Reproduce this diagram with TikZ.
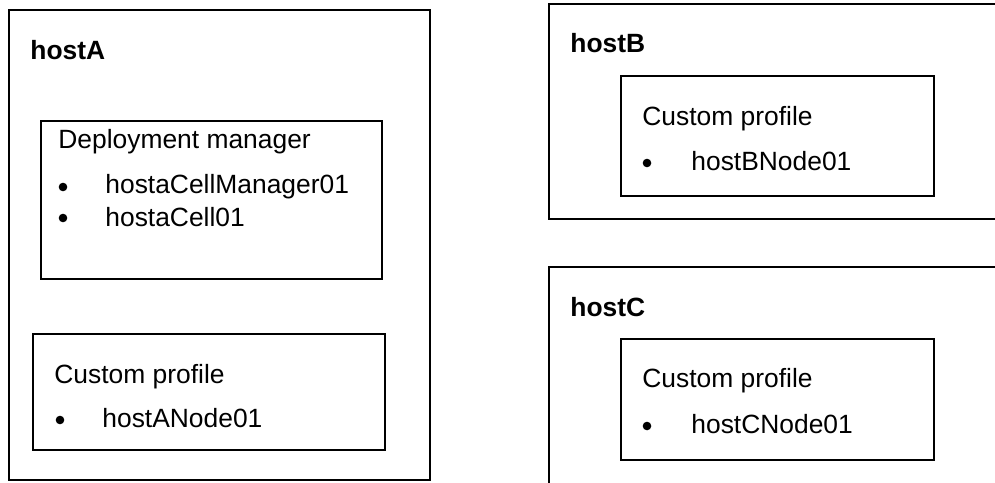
\documentclass[tikz,border=0pt]{standalone}
\usepackage{fontspec}
\setmainfont{Liberation Sans}
\usetikzlibrary{fit}

\tikzset{boite/.style = {draw, line width=0.8pt, inner sep=0pt, fit={#1}},
         texte/.style = {anchor=base west, inner sep=0pt,
                         font=\fontsize{13.2}{16}\selectfont},
         titre/.style = {texte, font=\fontsize{13.2}{16}\selectfont\bfseries},
         puce/.style  = {circle, fill, inner sep=0pt, minimum size=#1},
         puce/.default=4.3pt
        }

\begin{document}
\begin{tikzpicture}[x=0.5pt, y=-0.5pt]
  \useasboundingbox (0,0) rectangle (995,482);
  \clip (0,0) rectangle (995,482);
  % hostA
  \node[boite={(9,10) (430,480)}] (hostA) {};
  \node[titre] (titreA) at (30,59) {hostA};
  \node[boite={(41,121) (382,279)}] (dm) {};
  \node[texte] (titreDm) at (58,148) {Deployment manager};
  \node[puce] (puceDm1) at (63,187) {};
  \node[texte] (dm1) at (105,193) {hostaCellManager01};
  \node[puce] (puceDm2) at (63,218) {};
  \node[texte] (dm2) at (105,226) {hostaCell01};
  \node[boite={(33,334) (385,450)}] (profA) {};
  \node[texte] (titreProfA) at (54,383) {Custom profile};
  \node[puce] (pucePA) at (60,420) {};
  \node[texte] (noeudA) at (102,427) {hostANode01};
  % hostB
  \node[boite={(549,4) (1000,219)}] (hostB) {};
  \node[titre] (titreB) at (570,52) {hostB};
  \node[boite={(621,76) (934,196)}] (profB) {};
  \node[texte] (titreProfB) at (642,125) {Custom profile};
  \node[puce] (pucePB) at (647,163) {};
  \node[texte] (noeudB) at (691,170) {hostBNode01};
  % hostC
  \node[boite={(549,267) (1000,490)}] (hostC) {};
  \node[titre] (titreC) at (570,316) {hostC};
  \node[boite={(621,339) (934,460)}] (profC) {};
  \node[texte] (titreProfC) at (642,387) {Custom profile};
  \node[puce] (pucePC) at (647,426) {};
  \node[texte] (noeudC) at (691,433) {hostCNode01};
\end{tikzpicture}
\end{document}
